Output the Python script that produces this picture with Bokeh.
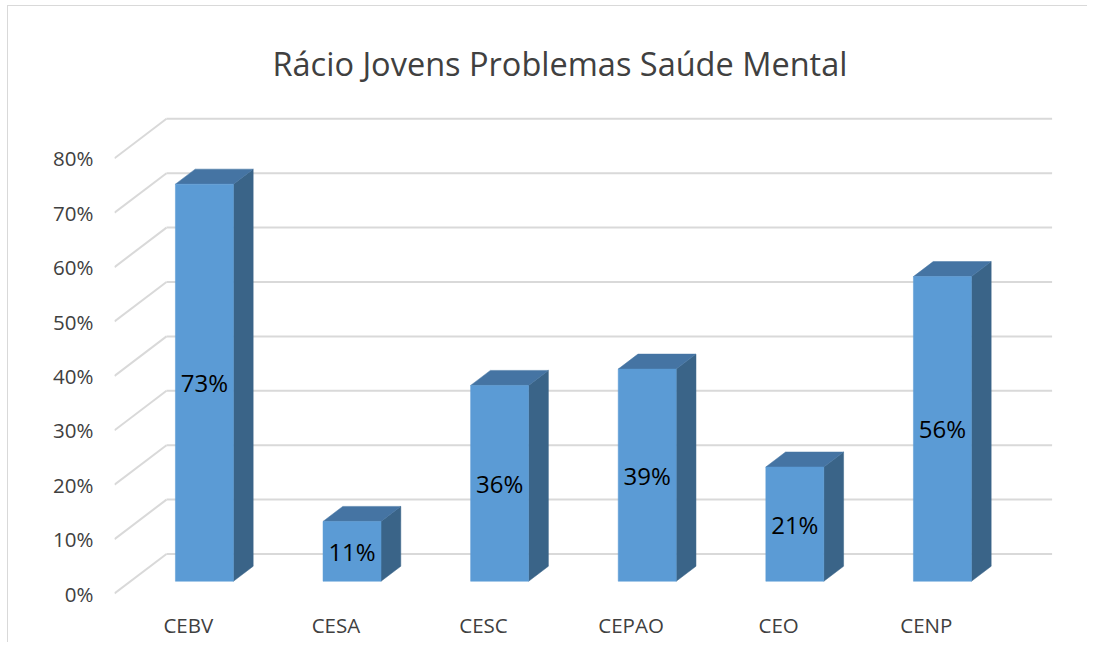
from bokeh.plotting import figure
from bokeh.models import FixedTicker, Range1d
from bokeh.core.properties import value
from bokeh.embed import file_html
from bokeh.resources import INLINE

# ---- data ----
categories = ["CEBV", "CESA", "CESC", "CEPAO", "CEO", "CENP"]
values = [73, 11, 36, 39, 21, 56]
y_ticks = [0, 10, 20, 30, 40, 50, 60, 70, 80]
y_tick_labels = ["0%", "10%", "20%", "30%", "40%", "50%", "60%", "70%", "80%"]
chart_title = "Rácio Jovens Problemas Saúde Mental"

# ---- geometry / style ----
PX_PER_CAT = 147.6
PX_PER_PCT = 5.44
DX = 52 / PX_PER_CAT          # full depth offset in x data units
DY = 39.5 / PX_PER_PCT        # full depth offset in y data units
D0, D1 = 0.31, 0.69           # bar front/back depth fractions
BAR_W = 0.393

W, H = 1080, 637
MB_L, MB_R, MB_T, MB_B = 106, 10, 98, 44
frame_w = W - MB_L - MB_R
frame_h = H - MB_T - MB_B
x0 = -0.5
x1 = x0 + frame_w / PX_PER_CAT
y0 = -6 / PX_PER_PCT
y1 = y0 + frame_h / PX_PER_PCT

FONT = "Open Sans"
FRONT = "#5B9BD5"
SIDE = "#3A6488"
TOP = "#4574A3"
GRID = "#D9D9D9"
TXT = "#404040"

p = figure(width=W, height=H, output_backend="svg", toolbar_location=None,
           x_range=Range1d(x0, x1), y_range=Range1d(y0, y1),
           min_border_left=MB_L, min_border_right=MB_R,
           min_border_top=MB_T, min_border_bottom=MB_B,
           title=chart_title)
p.margin = (5, 0, 0, 7)
p.outline_line_color = None
p.grid.visible = False
p.background_fill_color = "white"
p.border_fill_color = "white"
p.styles = {"border-left": "1px solid #D9D9D9", "border-top": "1px solid #D9D9D9"}

p.title.text_font = FONT
p.title.text_font_size = "32.5px"
p.title.text_font_style = "normal"
p.title.text_color = TXT
p.title.align = "left"
p.title.offset = 158
p.title.standoff = 38

# axes
xa = p.xaxis[0]
xa.ticker = FixedTicker(ticks=list(range(len(categories))))
xa.major_label_overrides = {i: c for i, c in enumerate(categories)}
ya = p.yaxis[0]
ya.ticker = FixedTicker(ticks=y_ticks)
ya.major_label_overrides = {t: l for t, l in zip(y_ticks, y_tick_labels)}
for ax in (xa, ya):
    ax.axis_line_color = None
    ax.major_tick_line_color = None
    ax.minor_tick_line_color = None
    ax.major_tick_out = 0
    ax.major_tick_in = 0
    ax.major_label_text_font = FONT
    ax.major_label_text_font_size = "20.5px"
    ax.major_label_text_color = TXT
xa.major_label_standoff = 11
ya.major_label_standoff = 21

# back wall gridlines and left-wall diagonals
n = len(categories)
left, right = -0.5, n - 0.5
p.multi_line(xs=[[left + DX, right + DX] for _ in y_ticks],
             ys=[[t + DY, t + DY] for t in y_ticks],
             line_color=GRID, line_width=2)
p.multi_line(xs=[[left, left + DX] for _ in y_ticks],
             ys=[[t, t + DY] for t in y_ticks],
             line_color=GRID, line_width=2)

# 3D bars
ddx = DX * (D1 - D0)
ddy = DY * (D1 - D0)
fx, fy, sx, sy, tx, ty = [], [], [], [], [], []
lx, ly, lt = [], [], []
for i, v in enumerate(values):
    L = i - BAR_W / 2 + DX * D0
    R = i + BAR_W / 2 + DX * D0
    B = DY * D0
    T = v + DY * D0
    fx.append([L, R, R, L]); fy.append([B, B, T, T])
    sx.append([R, R + ddx, R + ddx, R]); sy.append([B, B + ddy, T + ddy, T])
    tx.append([L, R, R + ddx, L + ddx]); ty.append([T, T, T + ddy, T + ddy])
    lx.append(i + DX * D0); ly.append(v / 2 + DY * D0); lt.append(f"{v}%")

p.patches(xs=sx, ys=sy, fill_color=SIDE, line_color=SIDE, line_width=0.5)
p.patches(xs=tx, ys=ty, fill_color=TOP, line_color=TOP, line_width=0.5)
p.patches(xs=fx, ys=fy, fill_color=FRONT, line_color=FRONT, line_width=0.5)

p.text(x=lx, y=ly, text=lt, text_align="center", text_baseline="middle",
       text_font=value(FONT), text_font_size="24px", text_color="black")

open("out.html", "w").write(file_html(p, INLINE))
